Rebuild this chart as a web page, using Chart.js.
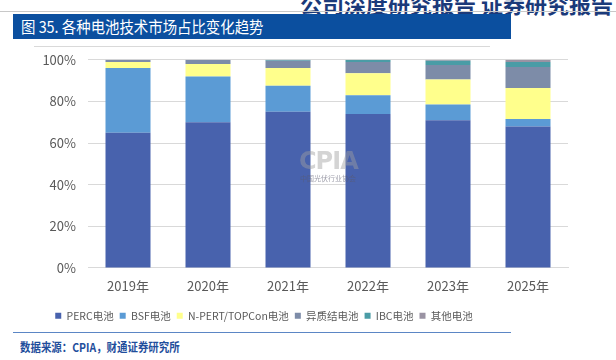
<!DOCTYPE html>
<html>
<head>
<meta charset="utf-8">
<script src="https://cdn.jsdelivr.net/npm/chart.js@4"></script>
<style>
  body { margin: 0; width: 616px; height: 360px; background: #fff; position: relative; overflow: hidden; font-family: "Noto Sans CJK SC", sans-serif; }
  .top-title { position: absolute; right: 3px; top: -13px; font-size: 22px; font-weight: bold; color: #1b3a7a; white-space: nowrap; }
  .top-line { position: absolute; left: 0; top: 11px; width: 616px; height: 1px; background: #c8c8c8; }
  .head { position: absolute; left: 13px; top: 14px; width: 498px; height: 25px; background: #0b4f9f; }
  .head span { position: absolute; left: 8px; top: 0; color: #fff; font-size: 16px; line-height: 25px; white-space: nowrap; transform: scaleX(0.9); transform-origin: left center; }
  .sub-line { position: absolute; left: 34px; top: 46px; width: 456px; height: 1px; background: #d9d9d9; }
  .foot-line { position: absolute; left: 13px; top: 332px; width: 498px; height: 1px; background: #5b86c5; }
  .foot { position: absolute; left: 20px; top: 338px; font-size: 12px; color: #1f4e9c; font-weight: bold; white-space: nowrap; transform: scaleX(0.87); transform-origin: left center; }
  .wrap { position: absolute; left: 0; top: 40px; width: 616px; height: 291px; }
  .mark { position: absolute; left: 299px; top: 148px; width: 58px; color: rgba(160,160,160,0.45); text-align: center; pointer-events: none; }
  .mark .big { font-size: 24px; font-weight: bold; font-family: "DejaVu Sans", sans-serif; line-height: 26px; letter-spacing: -1px; }
  .mark .small { font-size: 7px; line-height: 9px; color: rgba(90,90,110,0.6); white-space: nowrap; }
</style>
</head>
<body>
<div class="top-title">公司深度研究报告&nbsp;证券研究报告</div>
<div class="top-line"></div>
<div class="head"><span>图 35. 各种电池技术市场占比变化趋势</span></div>
<div class="sub-line"></div>
<div class="wrap"><canvas id="chart"></canvas></div>
<div class="mark"><div class="big">CPIA</div><div class="small">中国光伏行业协会</div></div>
<div class="foot-line"></div>
<div class="foot">数据来源：CPIA，财通证券研究所</div>
<script>
// 各年份电池技术市场占比（%）
const years = ['2019年', '2020年', '2021年', '2022年', '2023年', '2025年'];
const perc = [65, 70, 75, 74, 71, 68];
const bsf = [31, 22, 12.5, 9, 7.5, 3.5];
const topcon = [3, 6, 8.5, 10.5, 12, 15];
const hjt = [1, 2, 3.5, 5.5, 7, 10];
const ibc = [0, 0, 0.5, 1, 2, 2.5];
const other = [0, 0, 0, 0, 0.5, 1];
const yTicks = [0, 20, 40, 60, 80, 100];

const font = 'Noto Sans CJK SC';
const ctx = document.getElementById('chart');

// 图例整体左移，对齐原图
const legendShift = {
  id: 'legendShift',
  afterLayout(chart) {
    chart.legend.left -= 40;
    chart.legend.right -= 40;
  }
};

new Chart(ctx, {
  type: 'bar',
  data: {
    labels: years,
    datasets: [
      { label: 'PERC电池', data: perc, backgroundColor: '#4862ad' },
      { label: 'BSF电池', data: bsf, backgroundColor: '#5b9bd5' },
      { label: 'N-PERT/TOPCon电池', data: topcon, backgroundColor: '#ffff8c' },
      { label: '异质结电池', data: hjt, backgroundColor: '#7d8ca8' },
      { label: 'IBC电池', data: ibc, backgroundColor: '#4a9ca6' },
      { label: '其他电池', data: other, backgroundColor: '#9a93a3' }
    ]
  },
  plugins: [legendShift],
  options: {
    responsive: true,
    maintainAspectRatio: false,
    animation: false,
    categoryPercentage: 1,
    barPercentage: 0.5625,
    layout: { padding: { left: 40, right: 48, top: 2, bottom: 0 } },
    plugins: {
      tooltip: { enabled: false },
      legend: {
        position: 'bottom',
        labels: {
          boxWidth: 6,
          boxHeight: 6,
          padding: 6,
          color: '#595959',
          font: { family: font, size: 10.5 }
        }
      }
    },
    scales: {
      x: {
        stacked: true,
        afterFit: (s) => { s.height += 9; },
        grid: { display: false },
        border: { color: '#d9d9d9' },
        ticks: { color: '#595959', padding: 2, font: { family: font, size: 13 } }
      },
      y: {
        stacked: true,
        min: 0,
        max: 100,
        afterFit: (s) => { s.width = 48; },
        afterBuildTicks: (s) => { s.ticks = yTicks.map(v => ({ value: v })); },
        grid: { color: '#d9d9d9', drawTicks: false },
        border: { display: false },
        ticks: {
          color: '#595959',
          padding: 12,
          font: { family: font, size: 13 },
          callback: (v) => v + '%'
        }
      }
    }
  }
});
</script>
</body>
</html>
